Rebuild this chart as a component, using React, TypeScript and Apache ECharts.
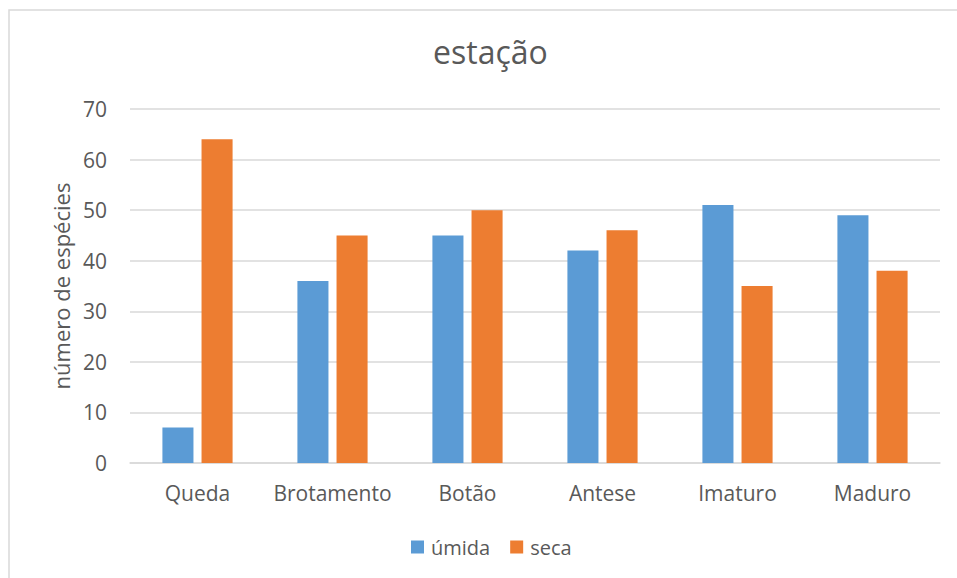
import React, { useEffect, useRef } from "react";
import * as echarts from "echarts";

const categories = ["Queda", "Brotamento", "Botão", "Antese", "Imaturo", "Maduro"];
const umida = [7, 36, 45, 42, 51, 49];
const seca = [64, 45, 50, 46, 35, 38];
const seriesNames = ["úmida", "seca"];

const FONT = "'Open Sans', 'Noto Sans', sans-serif";
const TEXT = "#595959";

export default function App() {
  const ref = useRef<HTMLDivElement>(null);

  useEffect(() => {
    if (!ref.current) return;
    const chart = echarts.init(ref.current, undefined, { renderer: "svg" });
    chart.setOption({
      animation: false,
      backgroundColor: "#ffffff",
      textStyle: { fontFamily: FONT },
      title: {
        text: "estação",
        left: 428,
        top: 30,
        textStyle: { fontFamily: FONT, fontSize: 32, fontWeight: "normal", color: TEXT },
      },
      graphic: [
        {
          type: "rect",
          shape: { x: 9, y: 10, width: 1000, height: 700 },
          style: { fill: "none", stroke: "#d9d9d9", lineWidth: 1.5 },
          silent: true,
        },
      ],
      legend: {
        bottom: 16,
        left: 406,
        itemWidth: 13,
        itemHeight: 13,
        itemGap: 20,
        icon: "rect",
        textStyle: { fontFamily: FONT, fontSize: 20, color: TEXT, padding: [0, 0, 0, 2] },
        data: seriesNames,
      },
      grid: { left: 130, right: 17, top: 109, bottom: 115 },
      xAxis: {
        type: "category",
        data: categories,
        axisLine: { lineStyle: { color: "#d9d9d9", width: 1.5 } },
        axisTick: { show: false },
        axisLabel: { fontFamily: FONT, fontSize: 21, color: TEXT, margin: 19, interval: 0 },
      },
      yAxis: {
        type: "value",
        min: 0,
        max: 70,
        interval: 10,
        name: "número de espécies",
        nameLocation: "middle",
        nameGap: 57,
        nameTextStyle: { fontFamily: FONT, fontSize: 22, color: TEXT },
        axisLine: { show: false },
        axisTick: { show: false },
        axisLabel: { fontFamily: FONT, fontSize: 21, color: TEXT, margin: 23 },
        splitLine: { lineStyle: { color: "#d9d9d9", width: 1.5 } },
      },
      series: [
        {
          name: seriesNames[0],
          type: "bar",
          data: umida,
          barWidth: "23%",
          barGap: "26%",
          itemStyle: { color: "#5B9BD5" },
        },
        {
          name: seriesNames[1],
          type: "bar",
          data: seca,
          barWidth: "23%",
          barGap: "26%",
          itemStyle: { color: "#ED7D31" },
        },
      ],
    });
    return () => chart.dispose();
  }, []);

  return (
    <div
      ref={ref}
      style={{ position: "absolute", left: 0, top: 0, width: 957, height: 578 }}
    />
  );
}
